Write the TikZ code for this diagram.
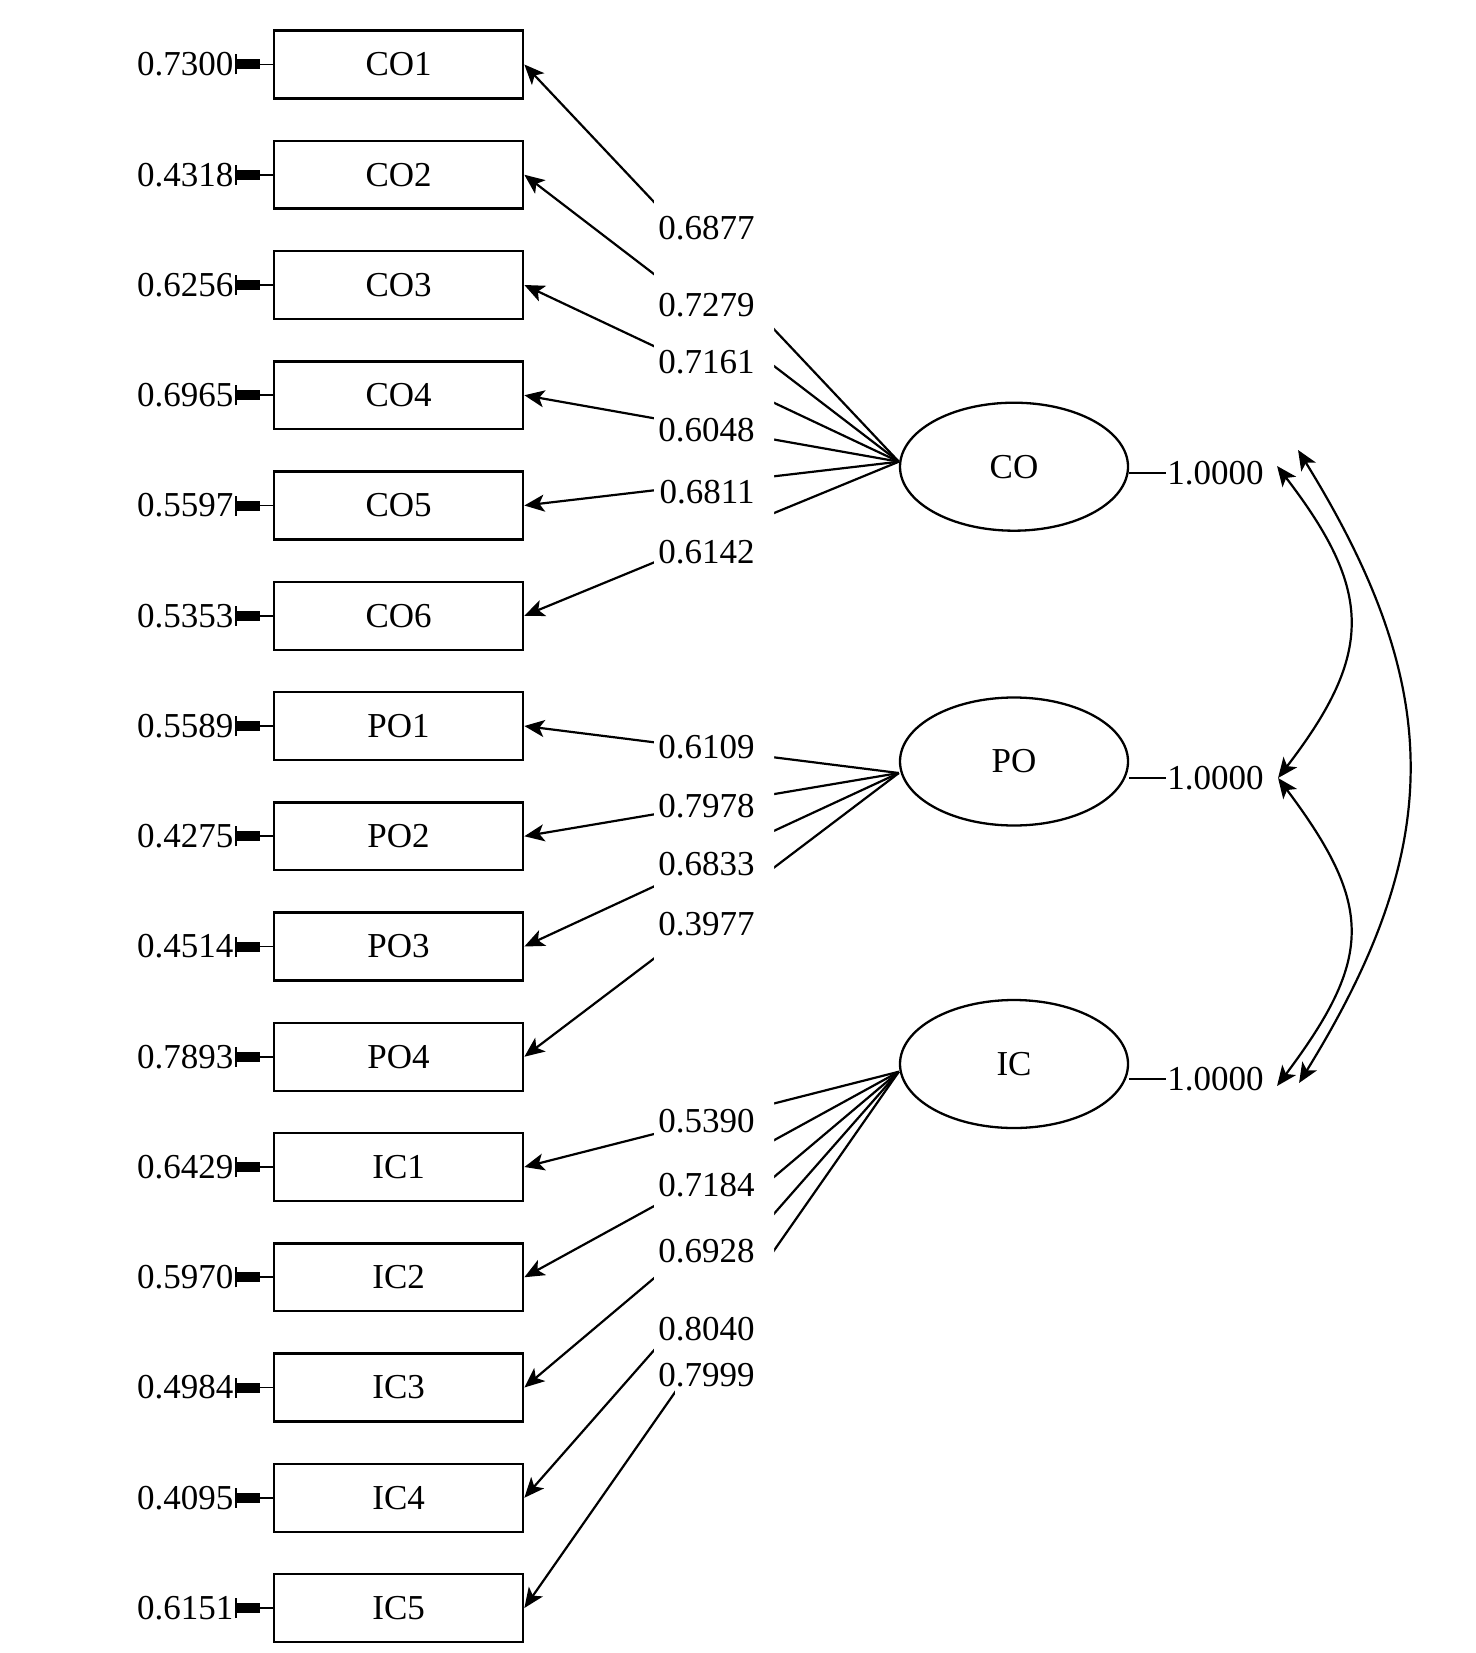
\documentclass[tikz,border=0pt]{standalone}
\usepackage{fontspec}
\setmainfont{Liberation Serif}
\usetikzlibrary{shapes.geometric, arrows.meta, positioning}
\tikzstyle{observed} = [rectangle, minimum width=124.6pt, minimum height=33.9pt, inner sep=0pt, text centered, draw=black, line width=1.15pt]
\tikzstyle{latent} = [ellipse, minimum width=114pt, minimum height=64pt, inner sep=0pt, draw=black, line width=1.15pt]
\tikzstyle{loading} = [anchor=east, inner sep=0.5pt]
\tikzstyle{errlabel} = [inner sep=0.5pt]
\tikzstyle{varlabel} = [anchor=west, inner sep=0.5pt]
\tikzstyle{arrow} = [line width=1.1pt, -{Stealth[length=10pt,width=8.5pt,inset=2.5pt]}]
\tikzstyle{covarrow} = [line width=1.1pt, {Stealth[length=10pt,width=8.5pt,inset=2.5pt]}-{Stealth[length=10pt,width=8.5pt,inset=2.5pt]}]
\tikzstyle{errlink} = [line width=0.8pt, {Bar[width=10pt,line width=1.2pt,sep=0pt]Rectangle[length=11.5pt,width=5pt]}-]
\tikzstyle{varline} = [line width=0.7pt]

\begin{document}
\begin{tikzpicture}[x=0.5pt, y=-0.5pt, node distance=55.125pt, font=\fontsize{17.5}{20}\selectfont]
        \useasboundingbox (0,0) rectangle (1476,1653);
        % observed variables
        \node (co1) [observed] at (398.6,64.5) {CO1};
        \node (co2) [observed, below of=co1] {CO2};
        \node (co3) [observed, below of=co2] {CO3};
        \node (co4) [observed, below of=co3] {CO4};
        \node (co5) [observed, below of=co4] {CO5};
        \node (co6) [observed, below of=co5] {CO6};
        \node (po1) [observed, below of=co6] {PO1};
        \node (po2) [observed, below of=po1] {PO2};
        \node (po3) [observed, below of=po2] {PO3};
        \node (po4) [observed, below of=po3] {PO4};
        \node (ic1) [observed, below of=po4] {IC1};
        \node (ic2) [observed, below of=ic1] {IC2};
        \node (ic3) [observed, below of=ic2] {IC3};
        \node (ic4) [observed, below of=ic3] {IC4};
        \node (ic5) [observed, below of=ic4] {IC5};

        % error terms
        \node (e-co1) [errlabel, left=19pt of co1] {0.7300};
        \node (e-co2) [errlabel, left=19pt of co2] {0.4318};
        \node (e-co3) [errlabel, left=19pt of co3] {0.6256};
        \node (e-co4) [errlabel, left=19pt of co4] {0.6965};
        \node (e-co5) [errlabel, left=19pt of co5] {0.5597};
        \node (e-co6) [errlabel, left=19pt of co6] {0.5353};
        \node (e-po1) [errlabel, left=19pt of po1] {0.5589};
        \node (e-po2) [errlabel, left=19pt of po2] {0.4275};
        \node (e-po3) [errlabel, left=19pt of po3] {0.4514};
        \node (e-po4) [errlabel, left=19pt of po4] {0.7893};
        \node (e-ic1) [errlabel, left=19pt of ic1] {0.6429};
        \node (e-ic2) [errlabel, left=19pt of ic2] {0.5970};
        \node (e-ic3) [errlabel, left=19pt of ic3] {0.4984};
        \node (e-ic4) [errlabel, left=19pt of ic4] {0.4095};
        \node (e-ic5) [errlabel, left=19pt of ic5] {0.6151};
        \draw [errlink] (e-co1) -- (co1);
        \draw [errlink] (e-co2) -- (co2);
        \draw [errlink] (e-co3) -- (co3);
        \draw [errlink] (e-co4) -- (co4);
        \draw [errlink] (e-co5) -- (co5);
        \draw [errlink] (e-co6) -- (co6);
        \draw [errlink] (e-po1) -- (po1);
        \draw [errlink] (e-po2) -- (po2);
        \draw [errlink] (e-po3) -- (po3);
        \draw [errlink] (e-po4) -- (po4);
        \draw [errlink] (e-ic1) -- (ic1);
        \draw [errlink] (e-ic2) -- (ic2);
        \draw [errlink] (e-ic3) -- (ic3);
        \draw [errlink] (e-ic4) -- (ic4);
        \draw [errlink] (e-ic5) -- (ic5);

        % latent variables
        \node (co) [latent] at (1014,466.7) {CO};
        \node (po) [latent] at (1014,761.5) {PO};
        \node (ic) [latent] at (1014,1064) {IC};
        \coordinate (co-in) at ([yshift=2.5pt]co.west);
        \coordinate (po-in) at ([yshift=-5.75pt]po.west);
        \coordinate (ic-in) at ([yshift=-3.85pt]ic.west);

        \draw [arrow] (co-in) -- (co1.east);
        \draw [arrow] (co-in) -- (co2.east);
        \draw [arrow] (co-in) -- (co3.east);
        \draw [arrow] (co-in) -- (co4.east);
        \draw [arrow] (co-in) -- (co5.east);
        \draw [arrow] (co-in) -- (co6.east);
        \draw [arrow] (po-in) -- (po1.east);
        \draw [arrow] (po-in) -- (po2.east);
        \draw [arrow] (po-in) -- (po3.east);
        \draw [arrow] (po-in) -- (po4.east);
        \draw [arrow] (ic-in) -- (ic1.east);
        \draw [arrow] (ic-in) -- (ic2.east);
        \draw [arrow] (ic-in) -- (ic3.east);
        \draw [arrow] (ic-in) -- (ic4.east);
        \draw [arrow] (ic-in) -- (ic5.east);

        % gap behind the loadings
        \fill [white] (654,190) -- (774,190) -- (774,1400) -- (675,1400) -- (675,1368) -- (654,1368) -- cycle;
        \node (l-co1) [loading] at (756,228.3) {0.6877};
        \node (l-co2) [loading] at (756,305) {0.7279};
        \node (l-co3) [loading] at (756,361.7) {0.7161};
        \node (l-co4) [loading] at (756,430) {0.6048};
        \node (l-co5) [loading] at (756,491.7) {0.6811};
        \node (l-co6) [loading] at (756,551.7) {0.6142};
        \node (l-po1) [loading] at (756,747.5) {0.6109};
        \node (l-po2) [loading] at (756,806.5) {0.7978};
        \node (l-po3) [loading] at (756,864.5) {0.6833};
        \node (l-po4) [loading] at (756,923.6) {0.3977};
        \node (l-ic1) [loading] at (756,1120.7) {0.5390};
        \node (l-ic2) [loading] at (756,1185) {0.7184};
        \node (l-ic3) [loading] at (756,1251.5) {0.6928};
        \node (l-ic4) [loading] at (756,1329.5) {0.8040};
        \node (l-ic5) [loading] at (756,1374.8) {0.7999};

        % variances and covariances
        \node (v-co) [varlabel] at (1166,473) {1.0000};
        \node (v-po) [varlabel] at (1166,778) {1.0000};
        \node (v-ic) [varlabel] at (1166,1079) {1.0000};
        \draw [varline] (co.east |- v-co) -- (v-co.west);
        \draw [varline] (po.east |- v-po) -- (v-po.west);
        \draw [varline] (ic.east |- v-ic) -- (v-ic.west);
        \coordinate (co-cov) at ([xshift=6pt,yshift=3.5pt]v-co.east);
        \coordinate (co-cov2) at ([xshift=16.5pt,yshift=11.5pt]v-co.east);
        \coordinate (po-cov) at ([xshift=6.5pt]v-po.east);
        \coordinate (ic-cov) at ([xshift=6pt,yshift=-3.5pt]v-ic.east);
        \coordinate (ic-cov2) at ([xshift=17pt,yshift=-2pt]v-ic.east);
        \draw [covarrow] (co-cov) .. controls +(96,125) and +(96,-125) .. (po-cov);
        \draw [covarrow] (po-cov) .. controls +(96,128) and +(96,-128) .. (ic-cov);
        \draw [covarrow] (co-cov2) .. controls +(147,238) and +(147,-238) .. (ic-cov2);
    \end{tikzpicture}
\end{document}
